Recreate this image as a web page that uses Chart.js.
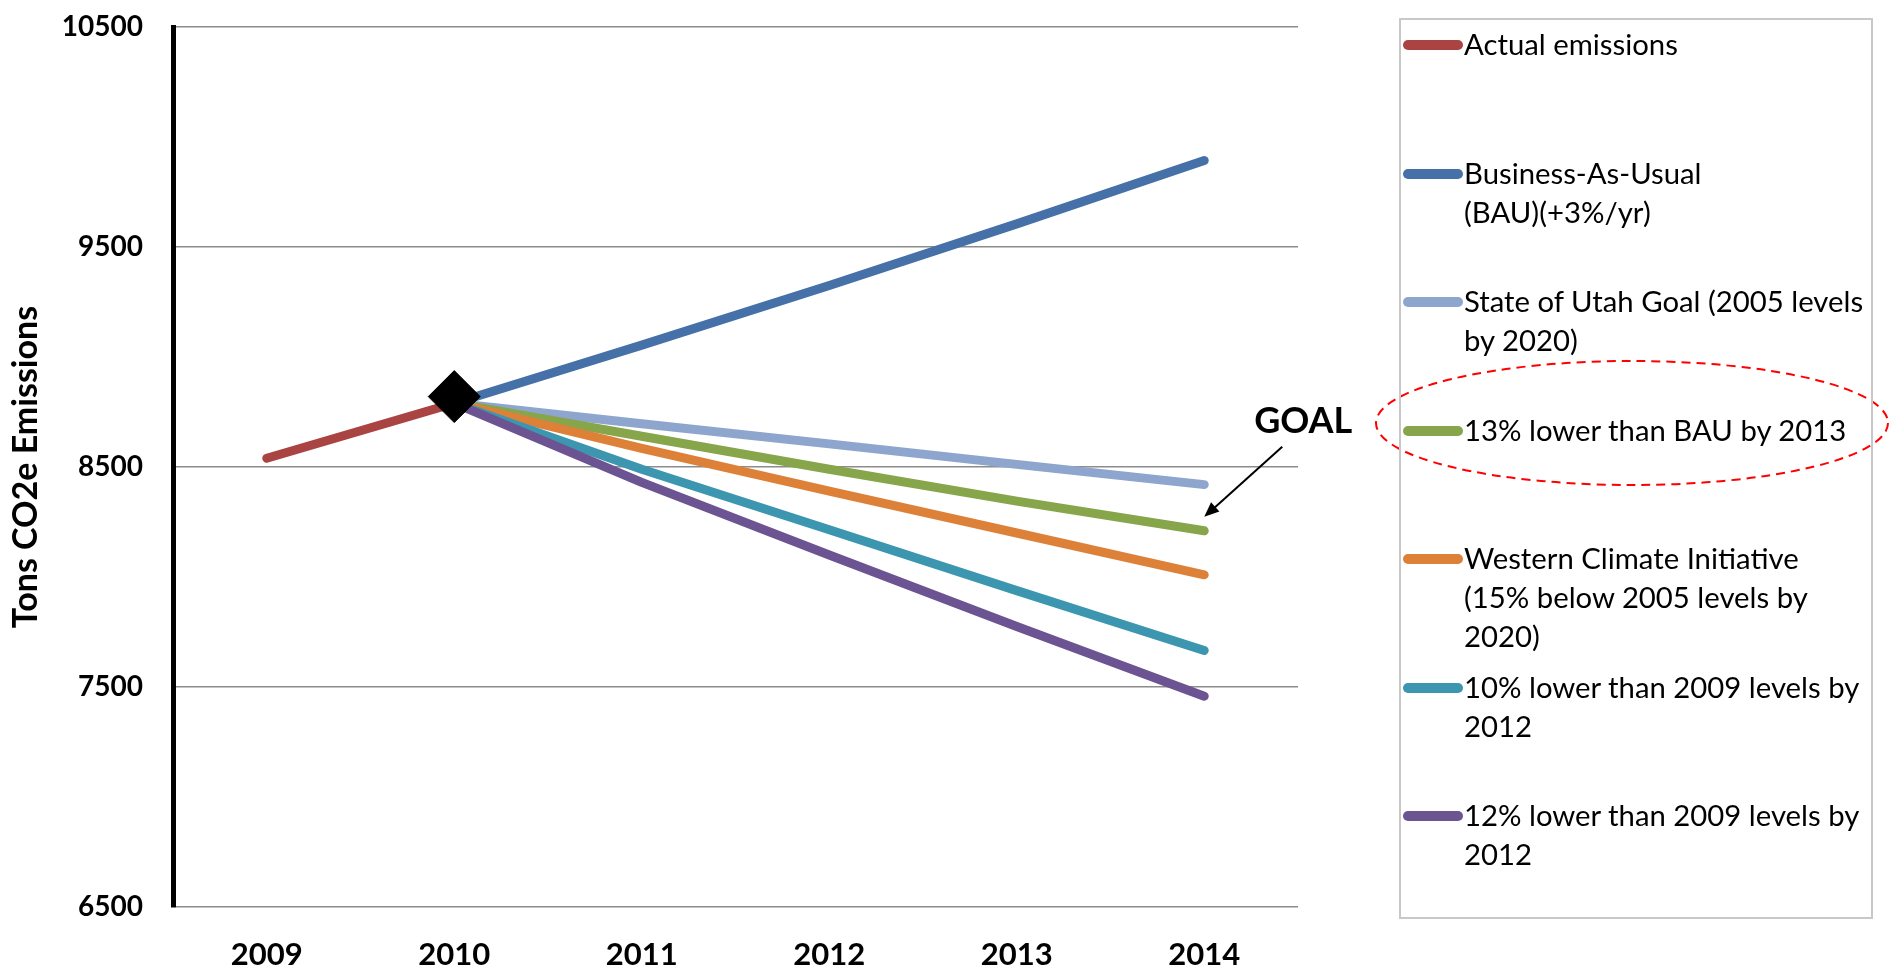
<!DOCTYPE html>
<html>
<head>
<meta charset="utf-8">
<script src="https://cdn.jsdelivr.net/npm/chart.js@4.4.1/dist/chart.umd.min.js"></script>
<style>
  html, body { margin: 0; padding: 0; background: #fff; }
  #wrap { position: relative; width: 1898px; height: 973px; }
  #legend {
    position: absolute; left: 1399px; top: 18px; width: 470px; height: 897px;
    border: 2px solid #c8c8c8; font-family: Lato, sans-serif; font-size: 29.3px; color: #000;
  }
  .item { position: absolute; left: 2px; right: 0; }
  .swatch { position: absolute; left: 0; top: 15px; width: 60px; height: 10px; border-radius: 5px; }
  .label { position: absolute; left: 61px; top: -1px; line-height: 39px; white-space: pre-line; }
</style>
</head>
<body>
<div id="wrap">
  <canvas id="chart"></canvas>
  <div id="legend"></div>
</div>
<script>
const years = ['2009', '2010', '2011', '2012', '2013', '2014'];
const yTicks = [6500, 7500, 8500, 9500, 10500];

const seriesNames = [
  'Actual emissions',
  'Business-As-Usual\n(BAU)(+3%/yr)',
  'State of Utah Goal (2005 levels\nby 2020)',
  '13% lower than BAU by 2013',
  'Western Climate Initiative\n(15% below 2005 levels by\n2020)',
  '10% lower than 2009 levels by\n2012',
  '12% lower than 2009 levels by\n2012'
];
const seriesColors = ['#a94442', '#4571a8', '#8ea6cd', '#87a54a', '#dd8139', '#3c96af', '#6b5491'];

const actual    = [8540, 8790, null, null, null, null];
const bau       = [null, 8790, 9054, 9325, 9605, 9893];
const utahGoal  = [null, 8790, 8697, 8605, 8512, 8420];
const bau13     = [null, 8790, 8640, 8490, 8345, 8210];
const wci       = [null, 8790, 8585, 8390, 8200, 8010];
const lower10   = [null, 8790, 8490, 8215, 7938, 7666];
const lower12   = [null, 8790, 8430, 8100, 7775, 7458];
// black diamond marking the 2010 base year
const baseYear  = [null, 8820, null, null, null, null];

const seriesData = [actual, bau, utahGoal, bau13, wci, lower10, lower12];

// legend (html so the wrapped lines stay as text)
const legendEl = document.getElementById('legend');
seriesNames.forEach((name, i) => {
  const it = document.createElement('div');
  it.className = 'item';
  it.style.top = (5 + i * 128.5) + 'px';
  it.innerHTML = `<div class="swatch" style="background:${seriesColors[i]}"></div><div class="label"></div>`;
  it.querySelector('.label').textContent = name;
  legendEl.appendChild(it);
});

const goalPlugin = {
  id: 'goal',
  afterDraw(chart) {
    const { ctx } = chart;
    const xs = chart.scales.x, ys = chart.scales.y;
    const tipX = xs.getPixelForValue(5);
    const tipY = ys.getPixelForValue(bau13[5]) - 14;
    const startX = tipX + 78, startY = tipY - 70;
    ctx.save();
    ctx.strokeStyle = '#000';
    ctx.fillStyle = '#000';
    ctx.lineWidth = 2;
    ctx.beginPath();
    ctx.moveTo(startX, startY);
    ctx.lineTo(tipX + 8, tipY - 7);
    ctx.stroke();
    const ang = Math.atan2(tipY - startY, tipX - startX);
    ctx.beginPath();
    ctx.moveTo(tipX, tipY);
    ctx.lineTo(tipX - 16 * Math.cos(ang - 0.4), tipY - 16 * Math.sin(ang - 0.4));
    ctx.lineTo(tipX - 16 * Math.cos(ang + 0.4), tipY - 16 * Math.sin(ang + 0.4));
    ctx.closePath();
    ctx.fill();
    ctx.font = 'bold 36px Lato, sans-serif';
    ctx.textAlign = 'center';
    ctx.textBaseline = 'middle';
    ctx.fillText('GOAL', tipX + 99, tipY - 95);

    // dashed ellipse round the 13% legend entry
    ctx.strokeStyle = '#ff0000';
    ctx.lineWidth = 2;
    ctx.setLineDash([9, 6]);
    ctx.beginPath();
    ctx.ellipse(1632, 423, 256, 62, 0, 0, Math.PI * 2);
    ctx.stroke();
    ctx.restore();
  }
};

Chart.defaults.font.family = 'Lato, sans-serif';
Chart.defaults.color = '#000';

const datasets = seriesData.map((d, i) => ({
  label: seriesNames[i],
  data: d,
  borderColor: seriesColors[i],
  backgroundColor: seriesColors[i],
  borderWidth: 9,
  borderCapStyle: 'round',
  borderJoinStyle: 'round',
  pointRadius: 0,
  tension: 0,
  order: 7 - i
}));
datasets.push({
  label: 'base',
  data: baseYear,
  showLine: false,
  pointStyle: 'rectRot',
  pointRadius: 26,
  backgroundColor: '#000',
  borderColor: '#000',
  borderWidth: 1,
  order: -1
});

new Chart(document.getElementById('chart'), {
  type: 'line',
  data: { labels: years, datasets },
  plugins: [goalPlugin],
  options: {
    responsive: true,
    maintainAspectRatio: false,
    animation: false,
    layout: { padding: { left: 0, top: 22, right: 600, bottom: 0 } },
    plugins: { legend: { display: false }, tooltip: { enabled: false } },
    scales: {
      x: {
        offset: true,
        grid: { display: false },
        border: { display: false },
        ticks: { font: { size: 31, weight: 'bold' }, padding: 21 },
        afterFit: s => { s.height = 66; s.paddingLeft = 0; s.paddingRight = 0; }
      },
      y: {
        min: 6500,
        max: 10500,
        afterBuildTicks: s => { s.ticks = yTicks.map(v => ({ value: v })); },
        grid: { color: '#8c8c8c', lineWidth: 1.5, drawTicks: false },
        border: { display: true, color: '#000', width: 5 },
        ticks: { font: { size: 28, weight: 'bold' }, padding: 30, callback: v => String(v) },
        title: {
          display: true,
          text: 'Tons CO2e Emissions',
          font: { size: 34, weight: 'bold' },
          padding: { top: 6, bottom: 0 }
        },
        afterFit: s => { s.width = 173; s.paddingTop = 0; s.paddingBottom = 0; }
      }
    }
  }
});
</script>
</body>
</html>
